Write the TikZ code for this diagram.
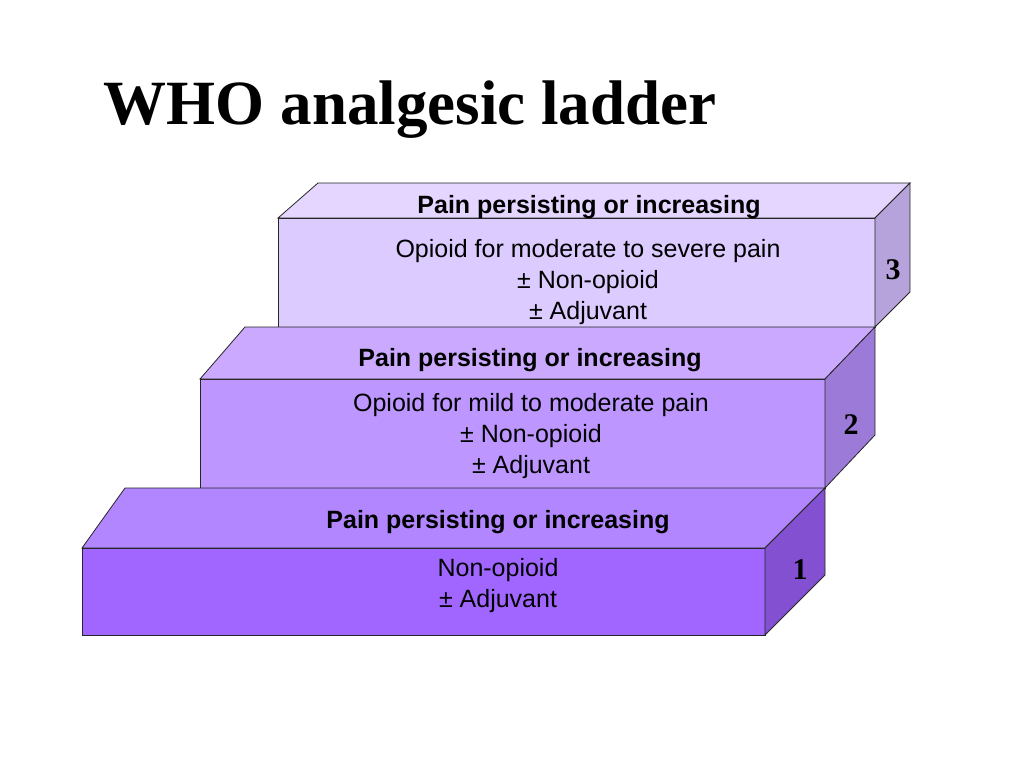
\documentclass[tikz,border=0pt]{standalone}
\usepackage{fontspec}
\setmainfont{Liberation Sans}
\newfontfamily\numfont{Liberation Serif}
\usepackage{tikz}

\definecolor{topC}{HTML}{E4D6FF}
\definecolor{frontC}{HTML}{DCCBFF}
\definecolor{sideC}{HTML}{B7A3DC}
\definecolor{topB}{HTML}{CBA9FF}
\definecolor{frontB}{HTML}{BE96FF}
\definecolor{sideB}{HTML}{9C7AD8}
\definecolor{topA}{HTML}{B186FF}
\definecolor{frontA}{HTML}{A066FF}
\definecolor{sideA}{HTML}{8250D0}

\begin{document}
\begin{tikzpicture}[x=1pt,y=-1pt,
  face/.style={draw=black!85,line width=0.8pt},
  title/.style={font=\numfont\fontsize{63}{68}\selectfont\bfseries,anchor=base},
  head/.style={font=\fontsize{25}{29}\selectfont\bfseries},
  body/.style={align=center,font=\fontsize{25}{31}\selectfont},
  num/.style={font=\numfont\fontsize{30}{32}\selectfont\bfseries}
]
\useasboundingbox[fill=white] (0,0) rectangle (1024,768);

\node[title] (title) at (410,124) {WHO analgesic ladder};

% step 3
\filldraw[face,fill=topC] (278,218) -- (318,183) -- (910,183) -- (875,218) -- cycle;
\filldraw[face,fill=frontC] (278,218) rectangle (875,327);
\filldraw[face,fill=sideC] (875,218) -- (910,183) -- (910,292) -- (875,327) -- cycle;
\node[head] (head3) at (589,207) {Pain persisting or increasing};
\node[body] (body3) at (588,282) {Opioid for moderate to severe pain\\± Non-opioid\\± Adjuvant};
\node[num] (num3) at (893,270) {3};

% step 2
\filldraw[face,fill=topB] (200,379) -- (245,327) -- (875,327) -- (825,379) -- cycle;
\filldraw[face,fill=frontB] (200,379) rectangle (825,488);
\filldraw[face,fill=sideB] (825,379) -- (875,327) -- (875,435) -- (825,488) -- cycle;
\node[head] (head2) at (530,360) {Pain persisting or increasing};
\node[body] (body2) at (531,436) {Opioid for mild to moderate pain\\± Non-opioid\\± Adjuvant};
\node[num] (num2) at (851,425) {2};

% step 1
\filldraw[face,fill=topA] (82,548) -- (125,488) -- (825,488) -- (765,548) -- cycle;
\filldraw[face,fill=frontA] (82,548) rectangle (765,635);
\filldraw[face,fill=sideA] (765,548) -- (825,488) -- (825,575) -- (765,635) -- cycle;
\node[head] (head1) at (498,522) {Pain persisting or increasing};
\node[body] (body1) at (498,586) {Non-opioid\\± Adjuvant};
\node[num] (num1) at (800,570) {1};
\end{tikzpicture}
\end{document}
